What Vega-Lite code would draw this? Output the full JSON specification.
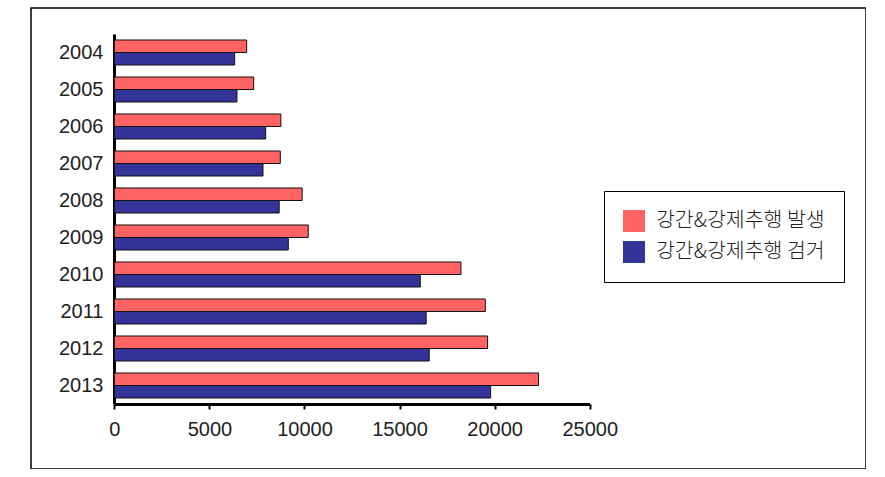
{
  "$schema": "https://vega.github.io/schema/vega-lite/v6.json",
  "autosize": "none",
  "padding": {"left": 31, "top": 8, "right": 0, "bottom": 0},
  "width": 835,
  "height": 461,
  "background": "white",
  "config": {
    "view": {"stroke": "#000000", "strokeWidth": 1.5},
    "font": "Liberation Sans"
  },
  "data": {
    "values": [
      {"year": "2004", "series": "강간&강제추행 발생", "value": 6960},
      {"year": "2004", "series": "강간&강제추행 검거", "value": 6330},
      {"year": "2005", "series": "강간&강제추행 발생", "value": 7330},
      {"year": "2005", "series": "강간&강제추행 검거", "value": 6450},
      {"year": "2006", "series": "강간&강제추행 발생", "value": 8760},
      {"year": "2006", "series": "강간&강제추행 검거", "value": 7960},
      {"year": "2007", "series": "강간&강제추행 발생", "value": 8730},
      {"year": "2007", "series": "강간&강제추행 검거", "value": 7820},
      {"year": "2008", "series": "강간&강제추행 발생", "value": 9880},
      {"year": "2008", "series": "강간&강제추행 검거", "value": 8670},
      {"year": "2009", "series": "강간&강제추행 발생", "value": 10200},
      {"year": "2009", "series": "강간&강제추행 검거", "value": 9150},
      {"year": "2010", "series": "강간&강제추행 발생", "value": 18230},
      {"year": "2010", "series": "강간&강제추행 검거", "value": 16090},
      {"year": "2011", "series": "강간&강제추행 발생", "value": 19510},
      {"year": "2011", "series": "강간&강제추행 검거", "value": 16400},
      {"year": "2012", "series": "강간&강제추행 발생", "value": 19630},
      {"year": "2012", "series": "강간&강제추행 검거", "value": 16560},
      {"year": "2013", "series": "강간&강제추행 발생", "value": 22310},
      {"year": "2013", "series": "강간&강제추행 검거", "value": 19790}
    ]
  },
  "mark": {"type": "bar", "stroke": "#111111", "strokeWidth": 1},
  "encoding": {
    "y": {
      "field": "year",
      "type": "nominal",
      "sort": ["2004", "2005", "2006", "2007", "2008", "2009", "2010", "2011", "2012", "2013"],
      "scale": {"range": [26, 396], "paddingInner": 0.324, "paddingOuter": 0.162},
      "axis": {
        "title": null,
        "offset": -83,
        "domainColor": "#000000",
        "domainWidth": 3,
        "ticks": false,
        "labelPadding": 11,
        "labelFont": "Liberation Sans",
        "labelFontSize": 20,
        "labelColor": "#222222"
      }
    },
    "yOffset": {
      "field": "series",
      "type": "nominal",
      "sort": ["강간&강제추행 발생", "강간&강제추행 검거"],
      "scale": {"paddingInner": 0, "paddingOuter": 0}
    },
    "x": {
      "field": "value",
      "type": "quantitative",
      "scale": {"domain": [0, 25000], "range": [83.3, 558.7], "nice": false},
      "axis": {
        "title": null,
        "offset": -65,
        "values": [0, 5000, 10000, 15000, 20000, 25000],
        "grid": false,
        "domainColor": "#000000",
        "domainWidth": 3,
        "tickColor": "#000000",
        "tickWidth": 2,
        "tickSize": 5,
        "labelPadding": 10,
        "labelFlush": false,
        "labelOverlap": false,
        "labelFont": "Liberation Sans",
        "labelFontSize": 20,
        "labelColor": "#222222",
        "format": "d"
      }
    },
    "color": {
      "field": "series",
      "type": "nominal",
      "sort": ["강간&강제추행 발생", "강간&강제추행 검거"],
      "scale": {"range": ["#FF6363", "#333399"]},
      "legend": {
        "title": null,
        "orient": "none",
        "legendX": 573,
        "legendY": 183,
        "strokeColor": "#000000",
        "padding": 19,
        "symbolType": "square",
        "symbolSize": 484,
        "symbolStrokeWidth": 0,
        "rowPadding": 9,
        "labelOffset": 11,
        "labelFont": "Noto Sans CJK KR",
        "labelFontSize": 20.5,
        "labelFontWeight": 300,
        "labelColor": "#222222",
        "labelLimit": 400
      }
    }
  }
}
